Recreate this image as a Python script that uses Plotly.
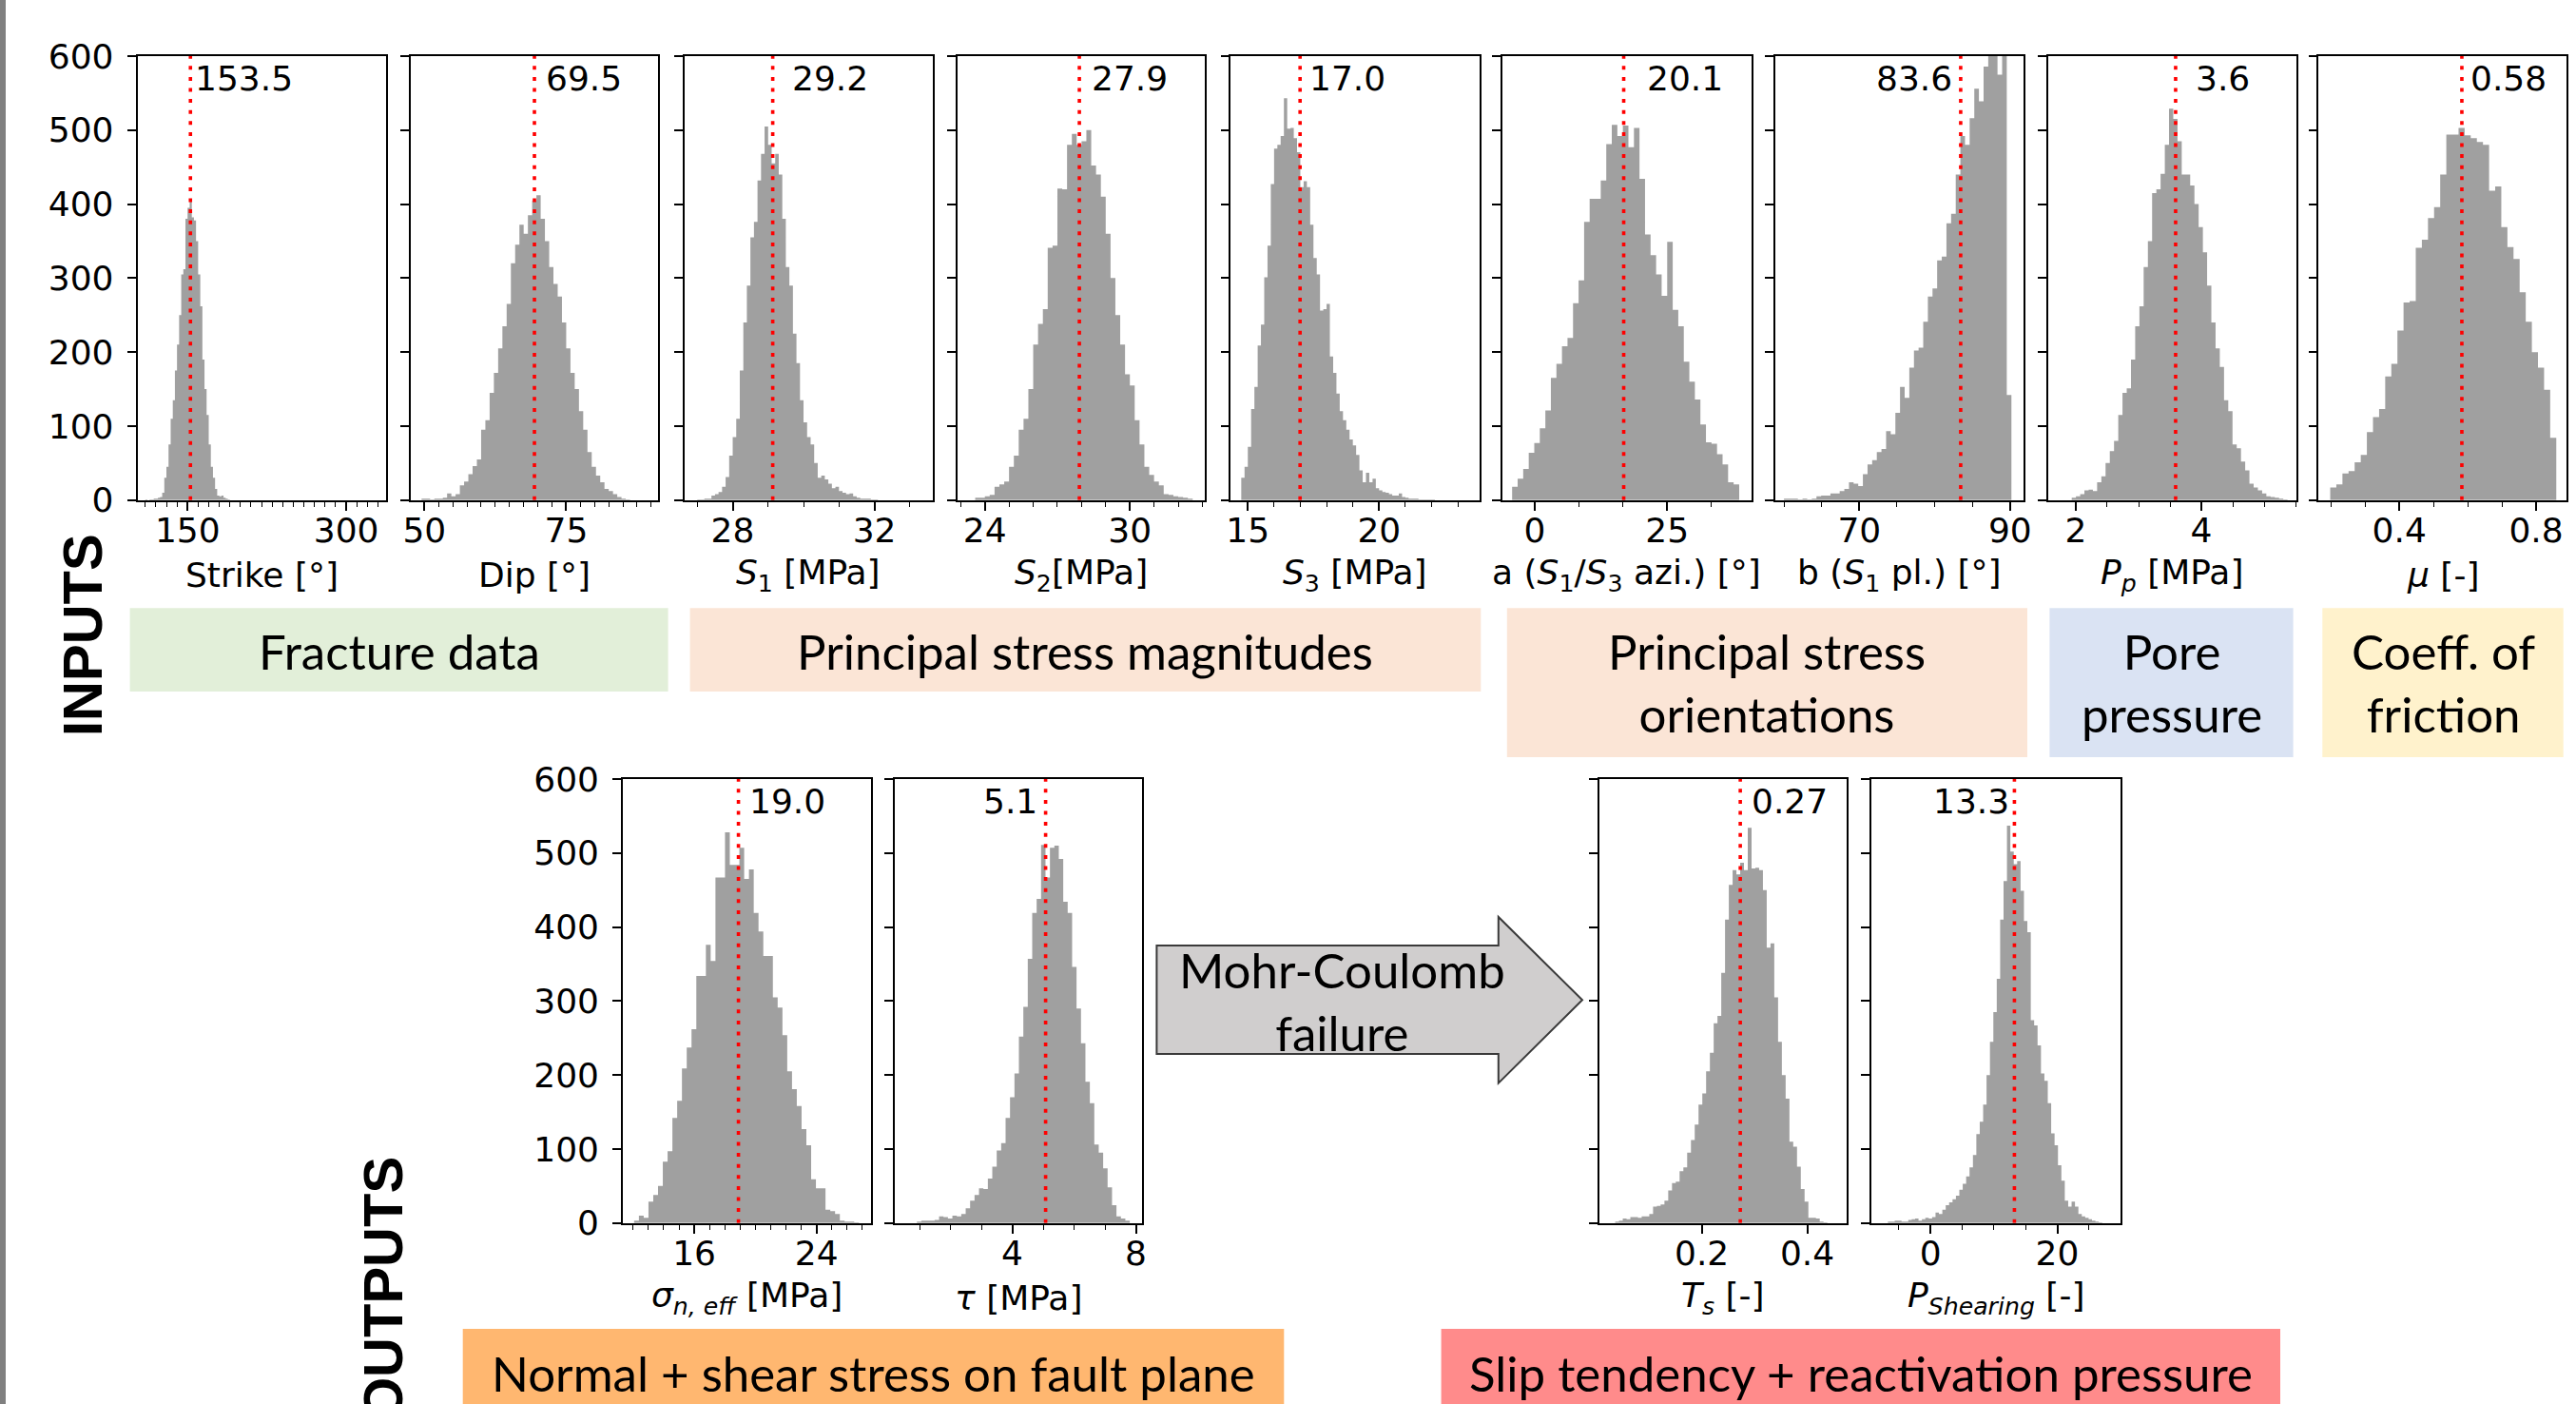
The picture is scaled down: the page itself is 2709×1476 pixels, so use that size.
import plotly.graph_objects as go

W, H = 2709, 1476

# ---------------- data ----------------
strike_bin0, strike_binw = 110.0, 2.0
strike_counts = [1, 0, 1, 1, 2, 2, 3, 4, 10, 30, 45, 75, 110, 135, 175, 210, 250, 305, 312, 380,
                 395, 405, 382, 378, 350, 305, 262, 190, 150, 115, 75, 45, 30, 15, 6, 5, 6, 3, 2, 1]

dip_bin0, dip_binw = 49.5, 0.75
dip_counts = [2, 2, 1, 2, 2, 3, 9, 5, 8, 20, 25, 35, 46, 55, 95, 108, 145, 172, 205, 235,
              265, 320, 345, 372, 360, 385, 405, 412, 380, 350, 315, 292, 275, 240, 205, 172, 150, 120, 95, 65,
              45, 33, 24, 15, 12, 8, 4, 2, 1]

s1_bin0, s1_binw = 27.0, 0.1
s1_counts = [1, 1, 2, 2, 6, 8, 11, 18, 31, 60, 85, 110, 175, 240, 290, 355, 376, 432, 468, 505,
             480, 455, 468, 440, 380, 315, 290, 225, 185, 135, 105, 85, 75, 50, 30, 33, 28, 22, 16, 18,
             12, 10, 8, 9, 5, 3, 2, 2, 2, 1, 1]

s2_bin0, s2_binw = 23.6, 0.2
s2_counts = [3, 3, 5, 7, 18, 21, 25, 45, 60, 95, 110, 150, 210, 238, 258, 341, 344, 421, 420, 480,
             495, 480, 485, 500, 452, 440, 410, 360, 300, 250, 210, 170, 155, 108, 75, 45, 34, 25, 20, 8,
             7, 5, 4, 3, 2]

s3_bin0, s3_binw = 14.75, 0.125
s3_counts = [30, 45, 72, 123, 153, 209, 237, 301, 344, 427, 475, 480, 492, 543, 502, 503, 489, 470, 423, 431,
             423, 372, 327, 305, 256, 258, 265, 194, 172, 144, 120, 108, 95, 82, 74, 61, 40, 24, 37, 24,
             29, 16, 13, 11, 10, 8, 6, 6, 9, 4, 3, 2, 2, 2, 1, 1, 1, 1, 1]

a_bin0, a_binw = -4.241, 1.0443
a_counts = [18, 29, 42, 64, 77, 97, 121, 165, 184, 208, 219, 266, 297, 376, 407, 407, 432, 481, 507, 492,
            506, 477, 503, 434, 359, 331, 305, 276, 349, 257, 235, 187, 160, 136, 102, 78, 76, 62, 48, 24, 21]

b_bin0, b_binw = 60.0, 0.616
b_counts = [2, 2, 2, 1, 2, 1, 2, 5, 6, 6, 9, 9, 12, 15, 24, 22, 19, 35, 48, 54,
            65, 69, 93, 89, 118, 153, 138, 179, 202, 206, 241, 275, 286, 324, 329, 374, 387, 440, 492, 480,
            516, 556, 539, 586, 640, 660, 575, 650, 142]

pp_bin0, pp_binw = 1.935, 0.0674
pp_counts = [3, 5, 8, 13, 14, 12, 24, 32, 50, 66, 80, 115, 145, 151, 190, 235, 262, 315, 350, 415,
             420, 441, 480, 529, 515, 485, 440, 440, 425, 400, 369, 335, 290, 240, 205, 180, 135, 120, 75, 70,
             52, 40, 22, 17, 13, 9, 5, 4, 3, 2, 1]

mu_bin0, mu_binw = 0.198, 0.01787
mu_counts = [17, 21, 36, 39, 51, 61, 92, 112, 123, 167, 184, 229, 267, 269, 341, 352, 381, 396, 440, 494,
             494, 503, 493, 489, 484, 480, 418, 424, 369, 342, 326, 281, 241, 200, 179, 149, 84]

sig_bin0, sig_binw = 12.067, 0.3129
sig_counts = [3, 10, 7, 29, 38, 50, 83, 97, 142, 165, 209, 237, 262, 334, 334, 376, 354, 467, 467, 528,
              484, 484, 507, 465, 478, 419, 394, 361, 361, 305, 291, 254, 205, 181, 158, 127, 105, 59, 47, 47,
              18, 16, 12, 3, 2, 2, 1]

tau_bin0, tau_binw = 0.915, 0.1435
tau_counts = [2, 3, 3, 3, 4, 9, 8, 6, 10, 9, 12, 20, 30, 38, 47, 46, 60, 76, 98, 108,
              142, 170, 202, 252, 292, 357, 419, 438, 511, 467, 507, 510, 492, 434, 419, 346, 290, 243, 191, 162,
              106, 95, 74, 48, 24, 9, 6, 3]

ts_bin0, ts_binw = 0.0359, 0.00718
ts_counts = [2, 3, 6, 5, 8, 8, 7, 9, 9, 12, 22, 23, 25, 30, 44, 54, 56, 70, 75, 95,
             112, 133, 160, 175, 205, 230, 270, 280, 338, 410, 457, 477, 471, 487, 477, 534, 479, 480, 477, 450,
             372, 378, 305, 245, 200, 168, 110, 103, 76, 46, 29, 7, 7, 6, 2, 1]

psh_bin0, psh_binw = -6.702, 0.5362
psh_counts = [2, 2, 3, 3, 2, 2, 4, 5, 6, 3, 5, 7, 6, 8, 14, 12, 18, 24, 28, 32,
              37, 45, 53, 63, 75, 92, 120, 137, 160, 200, 245, 285, 330, 410, 462, 537, 502, 485, 489, 449,
              408, 393, 274, 267, 240, 202, 192, 162, 121, 105, 78, 57, 30, 22, 29, 22, 12, 9, 7, 5,
              3, 2, 1]

median_lines = [152.7, 69.4, 29.13, 27.91, 16.99, 16.8, 83.45, 3.59, 0.583, 18.89, 5.08, 0.273, 13.24]
median_labels = ["153.5", "69.5", "29.2", "27.9", "17.0", "20.1", "83.6", "3.6", "0.58",
                 "19.0", "5.1", "0.27", "13.3"]

x_tickvals = [[150, 300], [50, 75], [28, 32], [24, 30], [15, 20], [0, 25], [70, 90], [2, 4], [0.4, 0.8],
              [16, 24], [4, 8], [0.2, 0.4], [0, 20]]
x_ticktext = [["150", "300"], ["50", "75"], ["28", "32"], ["24", "30"], ["15", "20"], ["0", "25"],
              ["70", "90"], ["2", "4"], ["0.4", "0.8"], ["16", "24"], ["4", "8"], ["0.2", "0.4"], ["0", "20"]]
y_tickvals = [0, 100, 200, 300, 400, 500, 600]

x_titles = ["Strike [°]", "Dip [°]", "<i>S</i><sub>1</sub> [MPa]", "<i>S</i><sub>2</sub>[MPa]",
            "<i>S</i><sub>3</sub> [MPa]", "a (<i>S</i><sub>1</sub>/<i>S</i><sub>3</sub> azi.) [°]",
            "b (<i>S</i><sub>1</sub> pl.) [°]", "<i>P<sub>p</sub></i> [MPa]", "<i>μ</i> [-]",
            "<i>σ<sub>n, eff</sub></i> [MPa]", "<i>τ</i> [MPa]", "<i>T<sub>s</sub></i> [-]",
            "<i>P<sub>Shearing</sub></i> [-]"]

group_labels = ["Fracture data", "Principal stress magnitudes", "Principal stress<br>orientations",
                "Pore<br>pressure", "Coeff. of<br>friction",
                "Normal + shear stress on fault plane", "Slip tendency + reactivation pressure"]
arrow_label = "Mohr-Coulomb<br>failure"
section_labels = ["INPUTS", "OUTPUTS"]

hist_bin0 = [strike_bin0, dip_bin0, s1_bin0, s2_bin0, s3_bin0, a_bin0, b_bin0, pp_bin0, mu_bin0,
             sig_bin0, tau_bin0, ts_bin0, psh_bin0]
hist_binw = [strike_binw, dip_binw, s1_binw, s2_binw, s3_binw, a_binw, b_binw, pp_binw, mu_binw,
             sig_binw, tau_binw, ts_binw, psh_binw]
hist_counts = [strike_counts, dip_counts, s1_counts, s2_counts, s3_counts, a_counts, b_counts, pp_counts,
               mu_counts, sig_counts, tau_counts, ts_counts, psh_counts]

# ---------------- layout / style ----------------
TOP_ROW = (59.0, 525.7)
BOT_ROW = (819.0, 1285.7)
panel_x = [(144.5, 405.8), (432.0, 692.0), (719.5, 981.0), (1007.0, 1267.0), (1294.3, 1555.5),
           (1579.6, 1841.5), (1866.5, 2128.0), (2153.8, 2414.7), (2438.3, 2699.0),
           (655.0, 916.0), (941.0, 1201.0), (1681.5, 1942.2), (1967.5, 2229.7)]
panel_row = [0] * 9 + [1] * 4
x_ranges = [(102.56, 337.5), (47.6, 91.19), (26.63, 33.65), (22.87, 33.1), (14.35, 23.81), (-6.14, 40.82),
            (58.79, 91.79), (1.558, 5.51), (0.164, 0.889), (11.33, 27.56), (0.2, 8.2), (0.0051, 0.475),
            (-9.38, 29.92)]
minor_dtick = [10, 2.5, 1, 1, 1, 25 / 3, 5, 0.5, 0.1, 1, 1, None, 5]
label_anchor = ["left", "left", "left", "left", "left", "left", "right", "left", "left",
                "left", "right", "left", "right"]
label_shift = [3, 10, 18, 11, 8, 22, -7, 19, 7, 9, -7, 10, -3]

GRAY = "#a0a0a0"
TICK_FONT = dict(family="DejaVu Sans", size=36, color="black")
BOX_FONT = dict(family="Lato", size=51, color="black")
AX = dict(ticks="outside", ticklen=9, tickwidth=1.6, tickcolor="black", showline=True, linecolor="black",
          linewidth=1.6, mirror=True, showgrid=False, zeroline=False, tickfont=TICK_FONT, automargin=False)

def px_x(v):
    return v / W

def px_y(v):
    return 1 - v / H

fig = go.Figure()
layout = dict(width=W, height=H, margin=dict(l=0, r=0, t=0, b=0, pad=0, autoexpand=False),
              paper_bgcolor="white", plot_bgcolor="white", showlegend=False, template="none")
annotations = []
shapes = []

for i in range(13):
    n = i + 1
    xs = "" if n == 1 else str(n)
    top, bot = TOP_ROW if panel_row[i] == 0 else BOT_ROW
    l, r = panel_x[i]
    minor = dict(showgrid=False)
    if minor_dtick[i] is not None:
        minor = dict(dtick=minor_dtick[i], tick0=0, ticks="outside", ticklen=5, tickwidth=1.3,
                     tickcolor="black", showgrid=False)
    layout["xaxis" + xs] = dict(AX, domain=[px_x(l), px_x(r)], anchor="y" + xs, range=list(x_ranges[i]),
                                tickmode="array", tickvals=x_tickvals[i], ticktext=x_ticktext[i],
                                minor=minor, ticklabelstandoff=-10)
    first = (i == 0 or i == 9)
    layout["yaxis" + xs] = dict(AX, domain=[px_y(bot), px_y(top)], anchor="x" + xs, range=[0, 600],
                                tickmode="array", tickvals=y_tickvals, showticklabels=first,
                                ticklabelstandoff=7)

    b0, w, c = hist_bin0[i], hist_binw[i], hist_counts[i]
    edges = [b0 + w * k for k in range(len(c) + 1)]
    fig.add_trace(go.Scatter(x=edges, y=list(c) + [c[-1]], mode="lines",
                             line=dict(shape="hv", width=0, color=GRAY), fill="tozeroy", fillcolor=GRAY,
                             xaxis="x" + xs, yaxis="y" + xs, hoverinfo="skip"))
    m = median_lines[i]
    fig.add_trace(go.Scatter(x=[m, m], y=[0, 600], mode="lines",
                             line=dict(color="#ff0000", width=3.6, dash="4px,7.6px"),
                             xaxis="x" + xs, yaxis="y" + xs, hoverinfo="skip"))
    annotations.append(dict(text=median_labels[i], x=m, xref="x" + xs, y=0.949, yref="y" + xs + " domain",
                            xanchor=label_anchor[i], yanchor="middle", xshift=label_shift[i],
                            showarrow=False, font=TICK_FONT))
    title_y = bot + 79
    annotations.append(dict(text=x_titles[i], x=px_x((l + r) / 2), xref="paper", y=px_y(title_y),
                            yref="paper", xanchor="center", yanchor="middle", showarrow=False, font=TICK_FONT))

# coloured group boxes: (x0, x1, y0, y1, colour, text y)
boxes = [(136.6, 702.6, 639.3, 727.0, "#e2efd9", 684),
         (725.6, 1557.3, 639.3, 727.0, "#fbe5d6", 684),
         (1584.8, 2132.0, 639.3, 796.0, "#fbe5d6", 717.5),
         (2155.4, 2411.6, 639.3, 796.0, "#dae3f3", 717.5),
         (2442.3, 2695.7, 639.3, 796.0, "#fff2cc", 717.5),
         (486.7, 1350.3, 1397.0, 1480.0, "#ffb770", 1443),
         (1515.6, 2398.0, 1397.0, 1480.0, "#ff8b8b", 1443)]
for (x0, x1, y0, y1, col, ty), txt in zip(boxes, group_labels):
    shapes.append(dict(type="rect", xref="paper", yref="paper", x0=px_x(x0), x1=px_x(x1),
                       y0=px_y(y1), y1=px_y(y0), fillcolor=col, line=dict(width=0), layer="below"))
    annotations.append(dict(text=txt, x=px_x((x0 + x1) / 2), xref="paper", y=px_y(ty), yref="paper",
                            xanchor="center", yanchor="middle", showarrow=False, font=BOX_FONT))

# block arrow
arrow_pts = [(1216.4, 994), (1575.8, 994), (1575.8, 964), (1664, 1051.3), (1575.8, 1138.6),
             (1575.8, 1108), (1216.4, 1108)]
path = "M " + " L ".join(f"{px_x(x):.6f},{px_y(y):.6f}" for x, y in arrow_pts) + " Z"
shapes.append(dict(type="path", xref="paper", yref="paper", path=path, fillcolor="#d0cece",
                   line=dict(color="#3a3a3a", width=2)))
annotations.append(dict(text=arrow_label, x=px_x(1411), xref="paper", y=px_y(1052), yref="paper",
                        xanchor="center", yanchor="middle", showarrow=False, font=BOX_FONT))

# left border bar
shapes.append(dict(type="rect", xref="paper", yref="paper", x0=0, x1=px_x(6), y0=0, y1=1,
                   fillcolor="#808080", line=dict(width=0)))

SEC_FONT = dict(family="Liberation Sans Narrow, Liberation Sans, Arial", size=58, color="black")
annotations.append(dict(text="<b>" + section_labels[0] + "</b>", x=px_x(86), xref="paper", y=px_y(668),
                        yref="paper", textangle=-90, xanchor="center", yanchor="middle",
                        showarrow=False, font=SEC_FONT))
annotations.append(dict(text="<b>" + section_labels[1] + "</b>", x=px_x(402), xref="paper", y=px_y(1355),
                        yref="paper", textangle=-90, xanchor="center", yanchor="middle",
                        showarrow=False, font=SEC_FONT))

layout["annotations"] = annotations
layout["shapes"] = shapes
fig.update_layout(**layout)
fig.write_html("out.html")
